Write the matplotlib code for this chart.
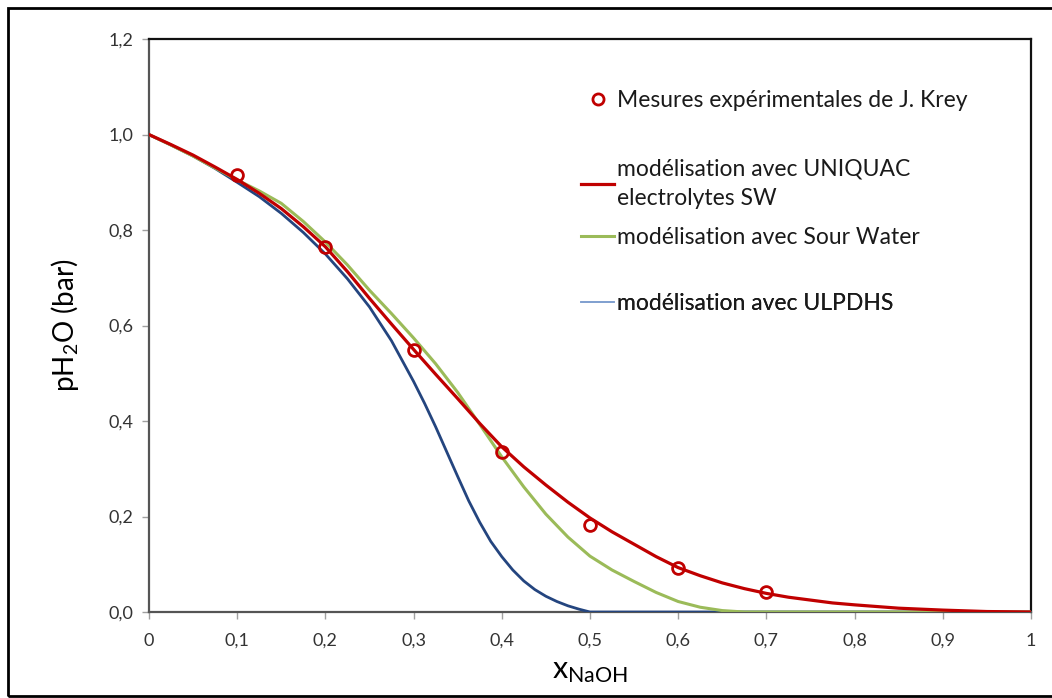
import numpy as np
import matplotlib
matplotlib.use('Agg')
import matplotlib.pyplot as plt
from matplotlib.lines import Line2D
from matplotlib.patches import Rectangle

plt.rcParams['font.family'] = ['Lato', 'DejaVu Sans']
plt.rcParams['mathtext.fontset'] = 'custom'
plt.rcParams['mathtext.rm'] = 'Lato'
plt.rcParams['mathtext.it'] = 'Lato'

# experimental points (J. Krey)
x_exp = [0.1, 0.2, 0.3, 0.4, 0.5, 0.6, 0.7]
p_exp = [0.916, 0.764, 0.548, 0.335, 0.183, 0.092, 0.041]

# UNIQUAC electrolytes SW
x_uniq = [0, 0.025, 0.05, 0.075, 0.1, 0.125, 0.15, 0.175, 0.2, 0.225, 0.25, 0.275,
          0.3, 0.325, 0.35, 0.375, 0.4, 0.425, 0.45, 0.475, 0.5, 0.525, 0.55, 0.575,
          0.6, 0.625, 0.65, 0.675, 0.7, 0.725, 0.75, 0.775, 0.8, 0.85, 0.9, 0.95, 1.0]
p_uniq = [1.0, 0.979, 0.957, 0.932, 0.906, 0.877, 0.845, 0.807, 0.765, 0.713, 0.657, 0.603,
          0.55, 0.498, 0.447, 0.395, 0.346, 0.304, 0.266, 0.23, 0.197, 0.168, 0.142, 0.116,
          0.093, 0.076, 0.061, 0.049, 0.039, 0.031, 0.025, 0.019, 0.015, 0.008, 0.004,
          0.001, 0.0]

# Sour Water
x_sw = [0, 0.025, 0.05, 0.075, 0.1, 0.125, 0.15, 0.175, 0.2, 0.225, 0.25, 0.275, 0.3,
        0.325, 0.35, 0.375, 0.4, 0.425, 0.45, 0.475, 0.5, 0.525, 0.55, 0.575, 0.6,
        0.625, 0.65, 0.675, 0.7, 0.8, 0.9, 1.0]
p_sw = [1.0, 0.978, 0.955, 0.93, 0.905, 0.882, 0.856, 0.818, 0.775, 0.727, 0.674, 0.625,
        0.574, 0.52, 0.46, 0.393, 0.325, 0.262, 0.205, 0.157, 0.117, 0.088, 0.064, 0.041,
        0.022, 0.01, 0.003, 0.0, 0.0, 0.0, 0.0, 0.0]

# ULPDHS
x_ul = [0, 0.025, 0.05, 0.075, 0.1, 0.125, 0.15, 0.175, 0.2, 0.225, 0.25, 0.275, 0.3,
        0.3125, 0.325, 0.3375, 0.35, 0.3625, 0.375, 0.3875, 0.4, 0.4125, 0.425, 0.4375,
        0.45, 0.4625, 0.475, 0.4875, 0.5, 0.6, 0.8, 1.0]
p_ul = [1.0, 0.978, 0.955, 0.929, 0.9, 0.87, 0.835, 0.795, 0.75, 0.698, 0.639, 0.568,
        0.483, 0.437, 0.388, 0.336, 0.284, 0.233, 0.188, 0.148, 0.116, 0.088, 0.065,
        0.047, 0.033, 0.022, 0.013, 0.006, 0.0, 0.0, 0.0, 0.0]

xticks = [0, 0.1, 0.2, 0.3, 0.4, 0.5, 0.6, 0.7, 0.8, 0.9, 1.0]
xtick_labels = ['0', '0,1', '0,2', '0,3', '0,4', '0,5', '0,6', '0,7', '0,8', '0,9', '1']
yticks = [0, 0.2, 0.4, 0.6, 0.8, 1.0, 1.2]
ytick_labels = ['0,0', '0,2', '0,4', '0,6', '0,8', '1,0', '1,2']

red = '#C00000'
green = '#9BBB59'
blue = '#24457F'

fig = plt.figure(figsize=(10.52, 6.98), dpi=100)
ax = fig.add_axes([0.1416, 0.1232, 0.8384, 0.8208])

ax.plot(x_ul, p_ul, color=blue, lw=2.0, zorder=3)
ax.plot(x_sw, p_sw, color=green, lw=2.2, zorder=4)
ax.plot(x_uniq, p_uniq, color=red, lw=2.3, zorder=5)
ax.plot(x_exp, p_exp, 'o', ms=8.5, mfc='none', mec=red, mew=2.0, zorder=6)

ax.set_xlim(0, 1)
ax.set_ylim(0, 1.2)
ax.set_xticks(xticks)
ax.set_xticklabels(xtick_labels)
ax.set_yticks(yticks)
ax.set_yticklabels(ytick_labels)
ax.tick_params(axis='both', direction='out', length=5, width=1, color='#a0a0a0',
               labelsize=13, labelcolor='#333333')
ax.tick_params(axis='x', pad=10)
ax.tick_params(axis='y', pad=6)

for side in ['top', 'right']:
    ax.spines[side].set_color('#111111')
    ax.spines[side].set_linewidth(1.6)
for side in ['left', 'bottom']:
    ax.spines[side].set_color('#555555')
    ax.spines[side].set_linewidth(1.6)

ax.set_ylabel('pH$_2$O (bar)', fontsize=20, labelpad=20)
ax.set_xlabel('x$_{\\mathrm{NaOH}}$', fontsize=22, labelpad=6)

# legend entries, placed one by one like the original
entries = [
    (Line2D([], [], ls='none', marker='o', ms=8, mfc='none', mec=red, mew=2),
     'Mesures expérimentales de J. Krey', 0.893),
    (Line2D([], [], color=red, lw=2.3),
     'modélisation avec UNIQUAC\nelectrolytes SW', 0.748),
    (Line2D([], [], color=green, lw=2.2),
     'modélisation avec Sour Water', 0.654),
    (Line2D([], [], color='#7F9FCF', lw=1.2),
     'modélisation avec ULPDHS', 0.539),
]
for handle, label, ypos in entries:
    leg = ax.legend([handle], [label], loc='center left', bbox_to_anchor=(0.48, ypos),
                    frameon=False, fontsize=16.5, handlelength=1.4, handletextpad=0.15,
                    borderaxespad=0, labelspacing=0.2)
    for t in leg.get_texts():
        t.set_color('#1a1a1a')
        t.set_linespacing(1.5)
    ax.add_artist(leg)

# outer frame of the picture
fig.patches.append(Rectangle((0.0076, 0.003), 1.1, 0.9855, transform=fig.transFigure,
                             fill=False, edgecolor='black', lw=2))

fig.savefig('out.png', dpi=100)
